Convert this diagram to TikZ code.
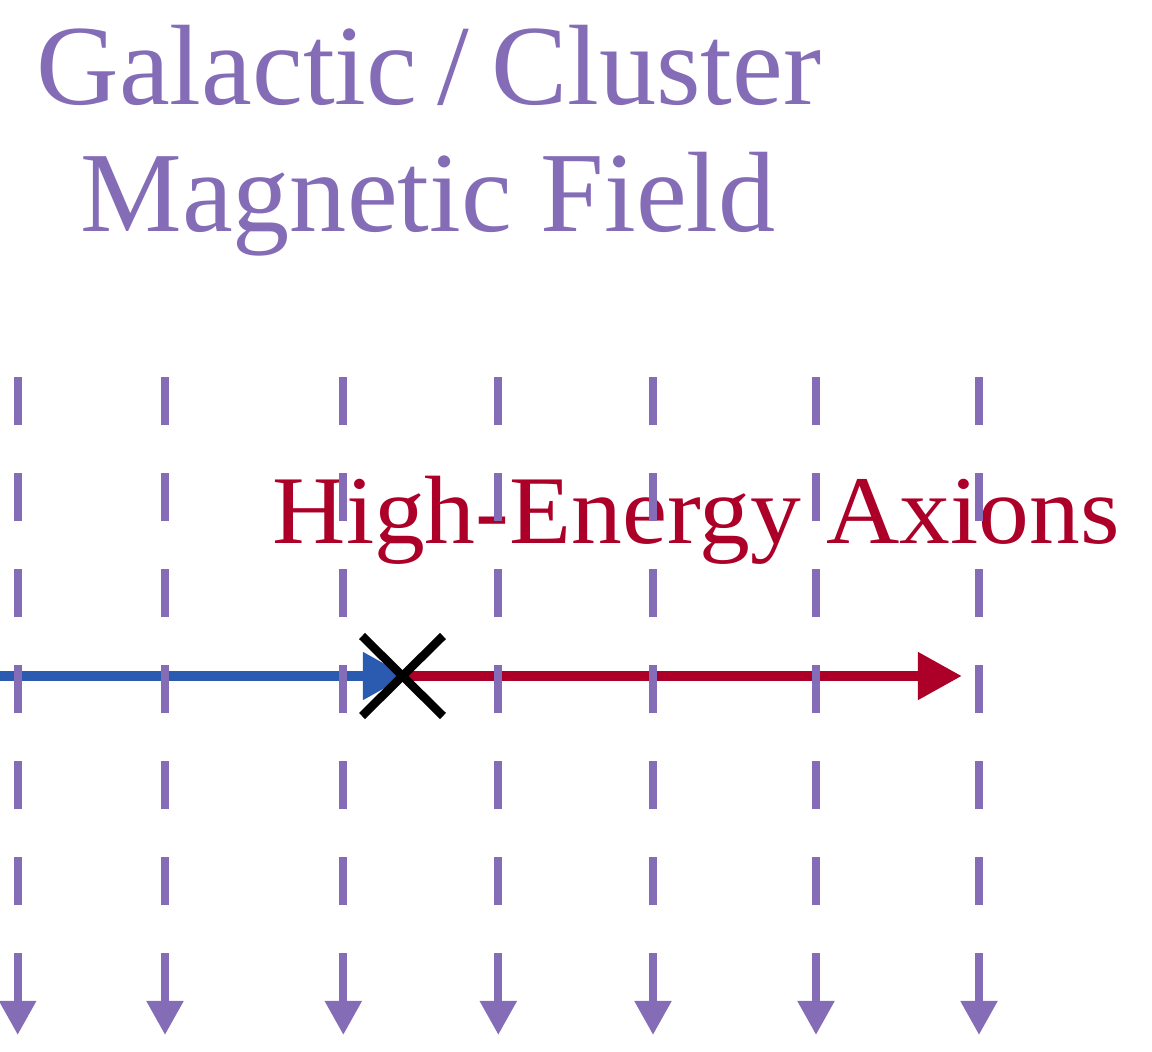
\documentclass[tikz,border=0pt]{standalone}
\usepackage{fontspec}
\setmainfont{Liberation Serif}
\newfontfamily\axionfont[FakeStretch=1.046]{Liberation Serif}
\usetikzlibrary{arrows.meta}
\definecolor{fieldpurple}{RGB}{132,108,183}
\definecolor{axionred}{RGB}{173,0,41}
\definecolor{photonblue}{RGB}{43,91,176}
\tikzset{
  fieldline/.style={fieldpurple, line width=0.08cm, dash pattern=on 0.48cm off 0.48cm,
    -{Triangle[length=0.34cm,width=0.35cm]}},
  beam/.style={line width=0.105cm, -{Triangle[length=0.44cm,width=0.45cm]}},
  crossline/.style={black, line width=0.085cm},
  titletext/.style={inner sep=0pt, text=fieldpurple, font=\fontsize{32.5}{40}\selectfont},
  axiontext/.style={inner sep=0pt, text=axionred, font=\axionfont\fontsize{27.6}{34}\selectfont}
}
\begin{document}
\begin{tikzpicture}[x=0.01cm, y=-0.01cm]
\useasboundingbox (0,0) rectangle (1152,1052);
% title
\node[titletext, anchor=base] (title1) at (429,105) {Galactic\hspace{0.2cm}/\hspace{0.22cm}Cluster};
\node[titletext, anchor=base] (title2) at (428,232) {Magnetic Field};
% beams
\coordinate (start) at (0,676);
\coordinate (conv) at (402,676);
\coordinate (blueend) at (407,676);
\coordinate (redend) at (962,676);
\draw[beam, photonblue] (start) -- (blueend);
\draw[beam, axionred] (conv) -- (redend);
\draw[crossline] (conv) ++(-40,-40) -- ++(81,80);
\draw[crossline] (conv) ++(-40,40) -- ++(81,-80);
% label
\node[axiontext, anchor=base west] (axlabel) at (272,543) {High-Energy Axions};
% field lines
\foreach \i/\x in {1/17.7,2/165,3/343.3,4/498.3,5/653,6/816,7/979}{
  \coordinate (ft\i) at (\x,377);
  \coordinate (fb\i) at (\x,1035);
  \draw[fieldline] (ft\i) -- (fb\i);
}
\end{tikzpicture}
\end{document}
